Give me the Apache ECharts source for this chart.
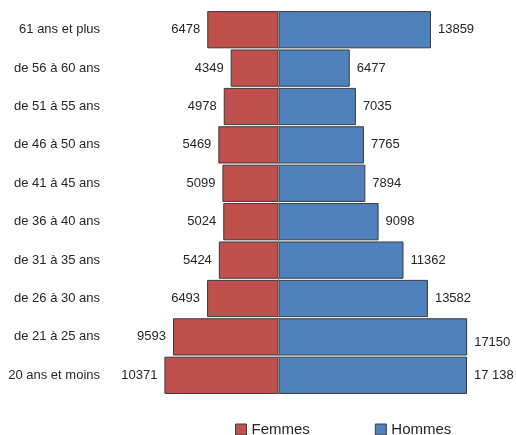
<!DOCTYPE html>
<html>
<head>
<meta charset="utf-8">
<script src="https://cdn.jsdelivr.net/npm/echarts@6/dist/echarts.min.js"></script>
<style>
  html, body { margin: 0; padding: 0; background: #fff; }
  #chart { width: 516px; height: 435px; }
</style>
</head>
<body>
<div id="chart"></div>
<script>
// tranches d'âge, du bas vers le haut
const ages = ['20 ans et moins', 'de 21 à 25 ans', 'de 26 à 30 ans', 'de 31 à 35 ans', 'de 36 à 40 ans',
  'de 41 à 45 ans', 'de 46 à 50 ans', 'de 51 à 55 ans', 'de 56 à 60 ans', '61 ans et plus'];
const femmes = [10371, 9593, 6493, 5424, 5024, 5099, 5469, 4978, 4349, 6478];
const hommes = [17138, 17150, 13582, 11362, 9098, 7894, 7765, 7035, 6477, 13859];
const hommesLabels = ['17 138', '17150', '13582', '11362', '9098', '7894', '7765', '7035', '6477', '13859'];

const chart = echarts.init(document.getElementById('chart'));
const font = 'Liberation Sans, Arial, sans-serif';

const option = {
  animation: false,
  textStyle: { fontFamily: font },
  grid: { left: 108, right: 17.5, top: 10.5, bottom: 40.5, containLabel: false },
  legend: {
    left: 230,
    top: 417,
    padding: 5,
    itemWidth: 11,
    itemHeight: 11,
    itemGap: 65,
    textStyle: { fontSize: 15, color: '#262626', fontFamily: font },
    data: [
      { name: 'Femmes', icon: 'rect', itemStyle: { borderColor: '#404040', borderWidth: 1 } },
      { name: 'Hommes', icon: 'rect', itemStyle: { borderColor: '#404040', borderWidth: 1 } }
    ]
  },
  xAxis: {
    type: 'value',
    min: -15500,
    max: 20000,
    show: false,
    splitLine: { show: false }
  },
  yAxis: {
    type: 'category',
    data: ages,
    axisLine: { show: false, onZero: false },
    axisTick: { show: false },
    axisLabel: { margin: 8, fontSize: 13, color: '#262626', fontFamily: font }
  },
  series: [
    {
      name: 'Femmes',
      type: 'bar',
      stack: 'pyr',
      barCategoryGap: '3%',
      data: femmes.map(v => -v),
      itemStyle: { color: '#C0504D', borderColor: '#3a3a3a', borderWidth: 1 },
      label: {
        show: true,
        position: 'left',
        distance: 7,
        fontSize: 13,
        color: '#262626',
        fontFamily: font,
        formatter: p => String(-p.value)
      },
      markLine: {
        silent: true,
        symbol: 'none',
        label: { show: false },
        lineStyle: { color: '#8a8a8a', width: 1, type: 'solid' },
        data: [{ xAxis: 0 }]
      }
    },
    {
      name: 'Hommes',
      type: 'bar',
      stack: 'pyr',
      barCategoryGap: '3%',
      data: hommes.map((v, i) => i === 1 ? { value: v, label: { offset: [0, 6] } } : v),
      itemStyle: { color: '#4F81BD', borderColor: '#3a3a3a', borderWidth: 1 },
      label: {
        show: true,
        position: 'right',
        distance: 7,
        fontSize: 13,
        color: '#262626',
        fontFamily: font,
        formatter: p => hommesLabels[p.dataIndex]
      }
    }
  ]
};

chart.setOption(option);
</script>
</body>
</html>
